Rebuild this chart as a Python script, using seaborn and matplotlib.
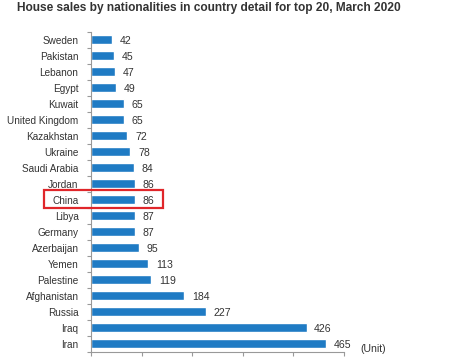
import matplotlib
matplotlib.use("Agg")
import matplotlib.pyplot as plt
import seaborn as sns
import pandas as pd
from matplotlib.patches import Rectangle

countries = ["Sweden", "Pakistan", "Lebanon", "Egypt", "Kuwait", "United Kingdom",
             "Kazakhstan", "Ukraine", "Saudi Arabia", "Jordan", "China", "Libya",
             "Germany", "Azerbaijan", "Yemen", "Palestine", "Afghanistan", "Russia",
             "Iraq", "Iran"]
sales = [42, 45, 47, 49, 65, 65, 72, 78, 84, 86, 86, 87, 87, 95, 113, 119, 184, 227, 426, 465]
title = "House sales by nationalities in country detail for top 20, March 2020"
unit_label = "(Unit)"
highlight = "China"

sns.set_theme(style="white")
plt.rcParams['font.family'] = ['Liberation Sans', 'DejaVu Sans']

df = pd.DataFrame({"country": countries, "sales": sales})

W, H = 455, 358
ax_left, ax_right = 91, 344
ax_top, ax_bot = 31.5, 351.5

fig = plt.figure(figsize=(W / 100, H / 100), dpi=100)
ax = fig.add_axes([ax_left / W, 1 - ax_bot / H, (ax_right - ax_left) / W, (ax_bot - ax_top) / H])
sns.barplot(data=df, y="country", x="sales", orient="h", color="#1f7bc4",
            saturation=1, width=0.55, ax=ax)

ax.set_xlim(0, 500)
ax.set_ylim(len(countries) - 0.5, -0.5)
ax.set_xlabel("")
ax.set_ylabel("")
ax.set_xticks(range(0, 501, 100))
ax.set_xticklabels([])
ax.set_yticks(range(len(countries)))
ax.set_yticklabels(countries, fontsize=7.2, color="#333333")
ax.set_yticks([i + 0.5 for i in range(-1, len(countries))], minor=True)
ax.tick_params(axis="y", which="major", length=0, pad=9)
ax.tick_params(axis="y", which="minor", length=3, color="#999999", width=0.8, left=True)
ax.tick_params(axis="x", which="major", length=3, color="#999999", width=0.8, bottom=True)
for s in ["top", "right"]:
    ax.spines[s].set_visible(False)
for s in ["left", "bottom"]:
    ax.spines[s].set_color("#999999")
    ax.spines[s].set_linewidth(0.8)

for c in ax.containers:
    texts = ax.bar_label(c, labels=[str(v) for v in sales], padding=5.5,
                         fontsize=7.6, color="#333333")
    for t in texts:
        ox, oy = t.xyann
        t.xyann = (ox, oy - 1.3)

fig.text(17 / W, 1 - 2.5 / H, title, fontsize=8.55, fontweight="bold", color="#333333",
         ha="left", va="top")
fig.text(360 / W, 1 - 349 / H, unit_label, fontsize=7.6, color="#333333", ha="left", va="center")

# red highlight box around China row
rx0, rx1 = 44 / W, 163 / W
ry_top = 1 - 190 / H
ry_bot = 1 - 208 / H
fig.patches.append(Rectangle((rx0, ry_bot), rx1 - rx0, ry_top - ry_bot,
                             transform=fig.transFigure, fill=False,
                             edgecolor="#e0262a", linewidth=1.6, zorder=10))

fig.savefig("out.png", dpi=100)
